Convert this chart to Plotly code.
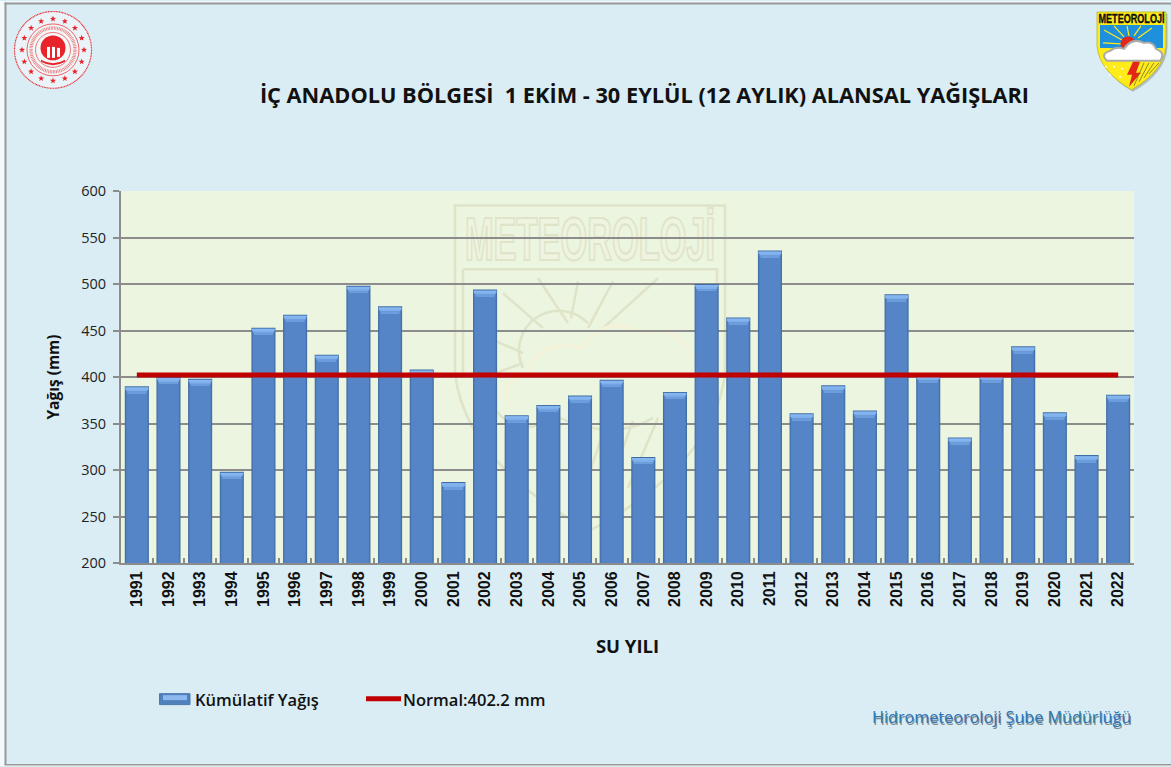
import base64
import math
import plotly.graph_objects as go

years = [str(y) for y in range(1991, 2023)]
rain = [390, 400, 398, 298, 453, 467, 424, 498, 476, 408, 287, 494, 359, 370, 380, 397,
        314, 384, 500, 464, 536, 361, 391, 364, 489, 402, 335, 402, 433, 362, 316, 381]
normal_value = 402.2
normal = [normal_value] * len(years)
title = "İÇ ANADOLU BÖLGESİ  1 EKİM - 30 EYLÜL (12 AYLIK) ALANSAL YAĞIŞLARI"
bar_name = "Kümülatif Yağış"
line_name = "Normal:402.2 mm"
footer = "Hidrometeoroloji Şube Müdürlüğü"

W, H = 1171, 767
L, R, T, B = 121, 1134, 190.5, 563.5


def px(x):
    return (x - L) / (R - L)


def py(y):
    return (B - y) / (B - T)


def uri(svg):
    return "data:image/svg+xml;base64," + base64.b64encode(svg.encode("utf-8")).decode()


def star_poly(cx, cy, r):
    pts = []
    for i in range(10):
        a = -math.pi / 2 + i * math.pi / 5
        q = r if i % 2 == 0 else r * 0.42
        pts.append(f"{cx + q * math.cos(a):.1f},{cy + q * math.sin(a):.1f}")
    return " ".join(pts)


def seal_svg():
    red = "#E8232A"
    stars = "".join(
        f'<polygon fill="{red}" points="{star_poly(40 + 31 * math.cos(i * math.pi / 8), 40 + 31 * math.sin(i * math.pi / 8), 3.2)}"/>'
        for i in range(16))
    return (f'<svg xmlns="http://www.w3.org/2000/svg" width="80" height="80" viewBox="0 0 80 80">'
            f'<circle cx="40" cy="40" r="38.5" fill="#EAF4F8" stroke="{red}" stroke-width="1.2" stroke-dasharray="1 .6"/>'
            f'{stars}'
            f'<circle cx="40" cy="40" r="26" fill="#F2F7F8" stroke="{red}" stroke-width=".7"/>'
            f'<circle cx="40" cy="40" r="22" fill="none" stroke="{red}" stroke-width="3.4" stroke-dasharray=".8 .8" opacity=".6"/>'
            f'<circle cx="40" cy="40" r="17.5" fill="none" stroke="{red}" stroke-width=".6"/>'
            f'<circle cx="40" cy="38" r="12.5" fill="{red}"/>'
            f'<rect x="34" y="37" width="3" height="11" fill="#fff"/><rect x="39" y="37" width="3" height="11" fill="#fff"/>'
            f'<rect x="44" y="38" width="3" height="9" fill="#fff"/>'
            f'<path d="M28 50 Q40 57 52 50 L52 52 Q40 59 28 52Z" fill="{red}"/></svg>')


def shield_svg():
    outline = "M1 1 H70 V35 Q68 60 35.5 79 Q3 60 1 35Z"
    return ('<svg xmlns="http://www.w3.org/2000/svg" width="74" height="83" viewBox="0 0 74 83">'
            f'<path d="{outline}" transform="translate(1.5 2)" fill="#9A9A9A" opacity=".6"/>'
            f'<path d="{outline}" fill="#FFEB1A" stroke="#B9B91E" stroke-width=".8"/>'
            '<text x="35.5" y="12" text-anchor="middle" font-family="Liberation Sans Narrow, Liberation Sans" '
            'font-weight="700" font-size="12" textLength="66" lengthAdjust="spacingAndGlyphs" fill="#111" '
            'stroke="#111" stroke-width=".35">METEOROLOJİ</text>'
            '<path d="M4 14 H67 V37 H4Z" fill="#1E90DC"/>'
            '<g stroke="#FFEB1A" stroke-width="1.2"><path d="M26 29 L8 19"/><path d="M28 26 L18 15"/>'
            '<path d="M33 25 L31 15"/><path d="M38 25 L45 15"/><path d="M25 33 L7 32"/><path d="M42 27 L56 17"/></g>'
            '<circle cx="32" cy="33" r="7.5" fill="#E32619"/>'
            '<path d="M11 50 Q4 43 14 40 Q20 35 28 38 Q36 26 48 32 Q57 30 60 38 Q70 42 64 50Z" fill="#fff" stroke="#A9A9A9" stroke-width="2"/>'
            '<path d="M37 51 H44 L40 62 H45 L33 76 L36 64 H31Z" fill="#E32619"/>'
            '<g stroke="#6E6E30" stroke-width=".8"><path d="M48 52 L38 75"/><path d="M53 52 L43 71"/>'
            '<path d="M58 52 L48 67"/><path d="M63 52 L53 63"/></g>'
            '<g fill="#fff"><circle cx="10" cy="56" r="1"/><circle cx="18" cy="56" r="1"/><circle cx="26" cy="58" r="1"/>'
            '<circle cx="14" cy="64" r="1"/><circle cx="24" cy="66" r="1"/></g></svg>')


def watermark_svg():
    dark = "#DFE3C8"
    cream = "#F4F2D9"
    return ('<svg xmlns="http://www.w3.org/2000/svg" width="276" height="330" viewBox="0 0 276 330">'
            f'<g fill="none" stroke="{dark}" stroke-width="2.5">'
            '<path d="M2 2 H272 V170 Q262 260 137 328 Q12 260 2 170Z"/>'
            '<path d="M10 66 H264 V170"/><path d="M10 66 V170"/>'
            '<path d="M50 90 L90 125"/><path d="M85 75 L115 120"/><path d="M125 78 L118 115"/><path d="M160 78 L135 125"/>'
            '<path d="M205 75 L150 125"/><path d="M25 130 L70 150"/><path d="M30 175 L70 160"/>'
            '<path d="M70 165 A40 40 0 0 1 135 120"/>'
            '<path d="M40 205 Q70 240 100 212 Q160 240 200 215"/>'
            '<path d="M155 215 L120 320"/><path d="M180 218 L150 300"/><path d="M205 215 L175 285"/></g>'
            f'<g fill="none" stroke="{cream}" stroke-width="3">'
            '<path d="M60 205 Q40 180 75 170 Q85 135 130 145 Q150 110 190 130 Q230 120 245 165 Q265 185 240 205"/></g>'
            f'<text x="137" y="57" text-anchor="middle" font-family="Liberation Sans Narrow, Liberation Sans" '
            f'font-weight="700" font-size="62" textLength="250" lengthAdjust="spacingAndGlyphs" fill="#EEF4DF" '
            f'stroke="{dark}" stroke-width="2.2">METEOROLOJİ</text>'
            '</svg>')


fig = go.Figure()
unit = 400 / (B - T)  # data units per pixel, so the bevel stays a fixed number of pixels
fig.add_trace(go.Bar(x=years, y=rain, name=bar_name, width=0.76, showlegend=False,
                     marker=dict(color="#3F6CA3", line=dict(width=0))))
for w, col in [(0.72, "#4A78B4"), (0.66, "#5585C6")]:
    fig.add_trace(go.Bar(x=years, y=[v - 200 - unit for v in rain], base=[200] * len(rain), width=w,
                         hoverinfo="skip", showlegend=False, marker=dict(color=col, line=dict(width=0))))
for w, top, bottom, col in [(0.72, 1, 3, "#86B6F0"), (0.66, 3, 5, "#7FB0EC"), (0.60, 5, 7, "#6C9DDC")]:
    fig.add_trace(go.Bar(x=years, y=[(bottom - top) * unit] * len(rain),
                         base=[v - bottom * unit for v in rain], width=w,
                         hoverinfo="skip", showlegend=False, marker=dict(color=col, line=dict(width=0))))
fig.add_trace(go.Scatter(x=years, y=normal, name=line_name, mode="lines", showlegend=False,
                         line=dict(color="#C00000", width=5)))


def rect(x0, x1, y0, y1, fill, line_col=None):
    return dict(type="rect", xref="paper", yref="paper", x0=px(x0), x1=px(x1), y0=py(y1), y1=py(y0),
                fillcolor=fill, line=dict(color=line_col, width=1) if line_col else dict(width=0), layer="above")


shapes = [
    rect(0, 4.5, 0, H, "#F4F9FB"), rect(0, W, 0, 1.5, "#F4F9FB"), rect(0, W, 766, H, "#F4F9FB"),
    rect(4.5, 6.5, 1.5, 766, "#9A9A9A"), rect(4.5, W, 1.5, 3.5, "#9A9A9A"), rect(4.5, W, 765, 766.5, "#9A9A9A"),
    rect(159.5, 190, 694.5, 705.5, "#4F81BD", "#4F79AD"),
    rect(163, 187, 696, 701, "#8DB9EE"),
    dict(type="line", xref="paper", yref="paper", x0=px(366), x1=px(401), y0=py(699.5), y1=py(699.5),
         line=dict(color="#C00000", width=5), layer="above"),
]


def image(svg, x, y, w, h, layer):
    return dict(source=uri(svg), xref="paper", yref="paper", x=px(x), y=py(y), sizex=w / (R - L), sizey=h / (B - T),
                xanchor="left", yanchor="top", sizing="stretch", layer=layer)


images = [
    image(seal_svg(), 13, 9, 80, 80, "above"),
    image(shield_svg(), 1096, 10, 74, 83, "above"),
    image(watermark_svg(), 453, 203, 276, 330, "below"),
]
font = "Open Sans, Noto Sans, sans-serif"
annotations = [
    dict(text=bar_name, x=px(194), y=py(700), xanchor="left",
         font=dict(size=16.5, family=font, color="#111", weight=600)),
    dict(text=line_name, x=px(402), y=py(700), xanchor="left",
         font=dict(size=16.5, family=font, color="#111", weight=600)),
]
for dx, dy, col in [(1.2, 1.6, "#7E8A94"), (0, 0, "#2E75B6")]:
    annotations.append(dict(text=footer, x=px(1132 + dx), y=py(718 + dy), xanchor="right",
                            font=dict(size=16.2, family=font, color=col, weight=500)))
for a in annotations:
    a.update(xref="paper", yref="paper", showarrow=False, yanchor="middle", borderpad=0)

fig.update_layout(
    width=W, height=H, autosize=False,
    margin=dict(l=L, r=W - R, t=T, b=H - B),
    paper_bgcolor="#DAEDF4", plot_bgcolor="#EBF5DF",
    showlegend=False, barmode="overlay",
    font=dict(family=font, color="#222"),
    title=dict(text=title, x=644.5 / W, xanchor="center", y=1 - 95 / H, yanchor="middle",
               font=dict(size=21.75, family=font, color="#111", weight="bold")),
    xaxis=dict(type="category", tickangle=-90, tickson="boundaries", ticks="inside", ticklen=5, tickwidth=1.5,
               tickcolor="#8C8C8C", showline=True, linecolor="#8C8C8C", linewidth=2, showgrid=False,
               tickfont=dict(family="Liberation Sans, Arial, sans-serif", size=16, color="#111", weight="bold"),
               title=dict(text="SU YILI", standoff=34,
                          font=dict(size=18.5, family=font, color="#111", weight="bold"))),
    yaxis=dict(range=[200, 600], dtick=50, ticks="outside", ticklen=6, tickwidth=2, tickcolor="#8C8C8C",
               showline=True, linecolor="#8C8C8C", linewidth=2, showgrid=True, gridcolor="#8C8C8C", gridwidth=1.5,
               tickfont=dict(size=14.5, family=font, color="#222"), ticklabelstandoff=4,
               title=dict(text="Yağış (mm)", standoff=18,
                          font=dict(size=15.5, family=font, color="#111", weight="bold"))),
    shapes=shapes, images=images, annotations=annotations,
)
fig.write_html("out.html", config={"displayModeBar": False}, post_script="document.body.style.margin='0';")
